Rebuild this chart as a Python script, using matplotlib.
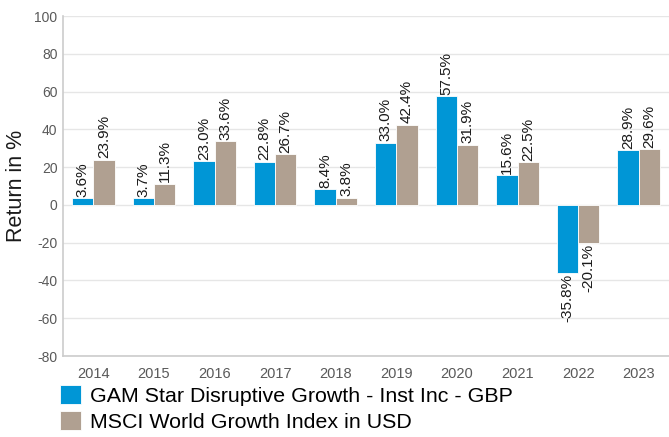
import matplotlib.pyplot as plt
import numpy as np

plt.rcParams['font.family'] = ['Liberation Sans', 'DejaVu Sans']
plt.rcParams['axes.unicode_minus'] = False

years = ["2014", "2015", "2016", "2017", "2018", "2019", "2020", "2021", "2022", "2023"]
fund = [3.6, 3.7, 23.0, 22.8, 8.4, 33.0, 57.5, 15.6, -35.8, 28.9]
index = [23.9, 11.3, 33.6, 26.7, 3.8, 42.4, 31.9, 22.5, -20.1, 29.6]
fund_name = "GAM Star Disruptive Growth - Inst Inc - GBP"
index_name = "MSCI World Growth Index in USD"

blue = "#0096D6"
grey = "#B0A091"

fig = plt.figure(figsize=(6.69, 4.37), dpi=100)
ax = fig.add_axes([63 / 669, 1 - 356 / 437, 606 / 669, 340 / 437])

x = np.arange(len(years))
w = 0.35
b1 = ax.bar(x - w / 2, fund, w, color=blue, edgecolor="white", linewidth=0.6, label=fund_name, zorder=3)
b2 = ax.bar(x + w / 2, index, w, color=grey, edgecolor="white", linewidth=0.6, label=index_name, zorder=3)

# value labels, rotated
for bars, vals in ((b1, fund), (b2, index)):
    for rect, v in zip(bars, vals):
        cx = rect.get_x() + rect.get_width() / 2
        if v >= 0:
            ax.annotate(f"{v:.1f}%", (cx, v), xytext=(0, 1), textcoords="offset points",
                        rotation=90, ha="center", va="bottom", fontsize=11, color="#1a1a1a")
        else:
            ax.annotate(f"{v:.1f}%", (cx, v), xytext=(0, -1), textcoords="offset points",
                        rotation=90, ha="center", va="top", fontsize=11, color="#1a1a1a")

ax.set_xlim(-0.5, len(years) - 0.5)
ax.set_ylim(-80, 100)
ax.set_yticks(range(-80, 101, 20))
ax.set_xticks(x)
ax.set_xticklabels(years)
ax.tick_params(axis="both", length=0, colors="#595959")
ax.tick_params(axis="x", labelsize=10.5, pad=8)
ax.tick_params(axis="y", labelsize=10, pad=4)
ax.grid(axis="y", color="#e6e6e6", linewidth=1, zorder=0)
ax.set_axisbelow(True)
for s in ("top", "right"):
    ax.spines[s].set_visible(False)
for s in ("left", "bottom"):
    ax.spines[s].set_color("#cccccc")
    ax.spines[s].set_linewidth(1.2)
ax.set_ylabel("Return in %", fontsize=15.5, color="#1a1a1a", labelpad=5)

fig.legend(handles=[b1, b2], loc="upper left", bbox_to_anchor=(60 / 669, 1 - 385 / 437),
           frameon=False, fontsize=15.4, handlelength=1.0, handleheight=1.0,
           handletextpad=0.4, labelspacing=0.25, borderaxespad=0, borderpad=0)

fig.savefig("out.png", dpi=100)
